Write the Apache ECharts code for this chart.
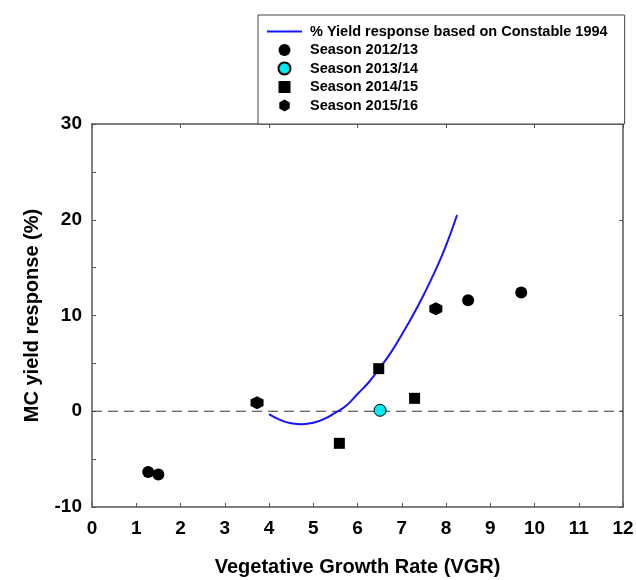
<!DOCTYPE html>
<html>
<head>
<meta charset="utf-8">
<script src="https://cdn.jsdelivr.net/npm/echarts@6/dist/echarts.min.js"></script>
<style>
  html, body { margin: 0; padding: 0; background: #fff; }
  #chart { width: 636px; height: 580px; }
</style>
</head>
<body>
<div id="chart"></div>
<script>
// values
var constableCurve = [
    [4.0, -0.3], [4.25, -0.9], [4.5, -1.25], [4.75, -1.35], [5.0, -1.2],
    [5.25, -0.8], [5.5, -0.15], [5.75, 0.6], [6.0, 1.8], [6.25, 3.0],
    [6.5, 4.5], [6.75, 6.1], [7.0, 8.0], [7.25, 10.0], [7.5, 12.2],
    [7.75, 14.6], [8.0, 17.3], [8.25, 20.5]
];
var season1213 = [[1.27, -6.35], [1.5, -6.6], [8.5, 11.6], [9.7, 12.4]];
var season1314 = [[6.51, 0.1]];
var season1415 = [[5.59, -3.35], [6.48, 4.45], [7.29, 1.35]];
var season1516 = [[3.73, 0.9], [7.77, 10.7]];
var zeroLine = [[0, 0], [12, 0]];

var legendNames = [
    '% Yield response based on Constable 1994',
    'Season 2012/13',
    'Season 2013/14',
    'Season 2014/15',
    'Season 2015/16'
];

var hexagon = 'path://M0,-10 L8.66,-5 L8.66,5 L0,10 L-8.66,5 L-8.66,-5 Z';
// thin line icon; the tiny corner dots keep the box 35x12 so it is not stretched
var lineIcon = 'path://M0,0 L0.01,0 L0.01,0.01 Z M0,5 L35,5 L35,7 L0,7 Z M35,12 L34.99,12 L34.99,11.99 Z';
var squareIcon = 'path://M0,0 L10,0 L10,10 L0,10 Z';
var font = 'Liberation Sans';
var axisColor = '#555';

var myChart = echarts.init(document.getElementById('chart'));

var option = {
    animation: false,
    textStyle: { fontFamily: font },
    grid: { left: 92, right: 13, top: 124, bottom: 73, outerBoundsMode: 'none' },
    legend: {
        data: [
            { name: legendNames[0], icon: lineIcon, itemStyle: { color: '#1414ff' } },
            { name: legendNames[1], icon: 'circle' },
            { name: legendNames[2], icon: 'circle' },
            { name: legendNames[3], icon: squareIcon },
            { name: legendNames[4], icon: hexagon }
        ],
        orient: 'vertical',
        left: 258,
        top: 15,
        itemWidth: 35,
        itemHeight: 12,
        itemGap: 3.5,
        symbolKeepAspect: true,
        padding: [9, 17, 11, 9],
        borderColor: '#444',
        borderWidth: 1,
        backgroundColor: '#fff',
        textStyle: {
            fontFamily: font, fontWeight: 'bold', fontSize: 14.5, lineHeight: 14,
            color: '#000', padding: [0, 0, 0, 3]
        }
    },
    xAxis: [{
        type: 'value',
        min: 0, max: 12, interval: 1,
        name: 'Vegetative Growth Rate (VGR)',
        nameLocation: 'middle',
        nameGap: 50,
        nameTextStyle: { fontFamily: font, fontWeight: 'bold', fontSize: 20, color: '#000' },
        axisLine: { show: true, onZero: false, lineStyle: { color: axisColor, width: 1.5 } },
        axisTick: { show: true, inside: true, length: 4, lineStyle: { color: axisColor } },
        axisLabel: { fontFamily: font, fontWeight: 'bold', fontSize: 19, color: '#000', margin: 12 },
        splitLine: { show: false }
    }, {
        type: 'value',
        position: 'top',
        min: 0, max: 12, interval: 2,
        axisLine: { show: true, onZero: false, lineStyle: { color: axisColor, width: 1.5 } },
        axisTick: { show: true, inside: true, length: 4, lineStyle: { color: axisColor } },
        axisLabel: { show: false },
        splitLine: { show: false }
    }],
    yAxis: [{
        type: 'value',
        min: -10, max: 30, interval: 10,
        name: 'MC yield response (%)',
        nameLocation: 'middle',
        nameGap: 50,
        nameTextStyle: { fontFamily: font, fontWeight: 'bold', fontSize: 20, color: '#000' },
        axisLine: { show: true, onZero: false, lineStyle: { color: axisColor, width: 1.5 } },
        axisTick: { show: true, inside: true, length: 4, lineStyle: { color: axisColor } },
        minorTick: { show: true, splitNumber: 2, length: 4, lineStyle: { color: axisColor } },
        axisLabel: { fontFamily: font, fontWeight: 'bold', fontSize: 19, color: '#000', margin: 10 },
        splitLine: { show: false }
    }, {
        type: 'value',
        position: 'right',
        min: -10, max: 30, interval: 10,
        axisLine: { show: true, onZero: false, lineStyle: { color: axisColor, width: 1.5 } },
        axisTick: { show: true, inside: true, length: 4, lineStyle: { color: axisColor } },
        axisLabel: { show: false },
        splitLine: { show: false }
    }],
    series: [
        {
            name: 'zero',
            type: 'line',
            data: zeroLine,
            symbol: 'none',
            silent: true,
            lineStyle: { color: '#333', width: 1.2, type: [10, 6] },
            z: 1
        },
        {
            name: legendNames[0],
            type: 'line',
            data: constableCurve,
            smooth: true,
            symbol: 'none',
            lineStyle: { color: '#1414ff', width: 2 },
            itemStyle: { color: '#1414ff' },
            z: 2
        },
        {
            name: legendNames[1],
            type: 'scatter',
            data: season1213,
            symbol: 'circle',
            symbolSize: 12,
            itemStyle: { color: '#000', opacity: 1 },
            z: 3
        },
        {
            name: legendNames[2],
            type: 'scatter',
            data: season1314,
            symbol: 'circle',
            symbolSize: 12,
            itemStyle: { color: '#00e8f0', borderColor: '#000', borderWidth: 1, opacity: 1 },
            z: 3
        },
        {
            name: legendNames[3],
            type: 'scatter',
            data: season1415,
            symbol: 'rect',
            symbolSize: 11,
            itemStyle: { color: '#000', opacity: 1 },
            z: 3
        },
        {
            name: legendNames[4],
            type: 'scatter',
            data: season1516,
            symbol: hexagon,
            symbolSize: 13,
            itemStyle: { color: '#000', opacity: 1 },
            z: 3
        }
    ]
};

myChart.setOption(option);
</script>
</body>
</html>
